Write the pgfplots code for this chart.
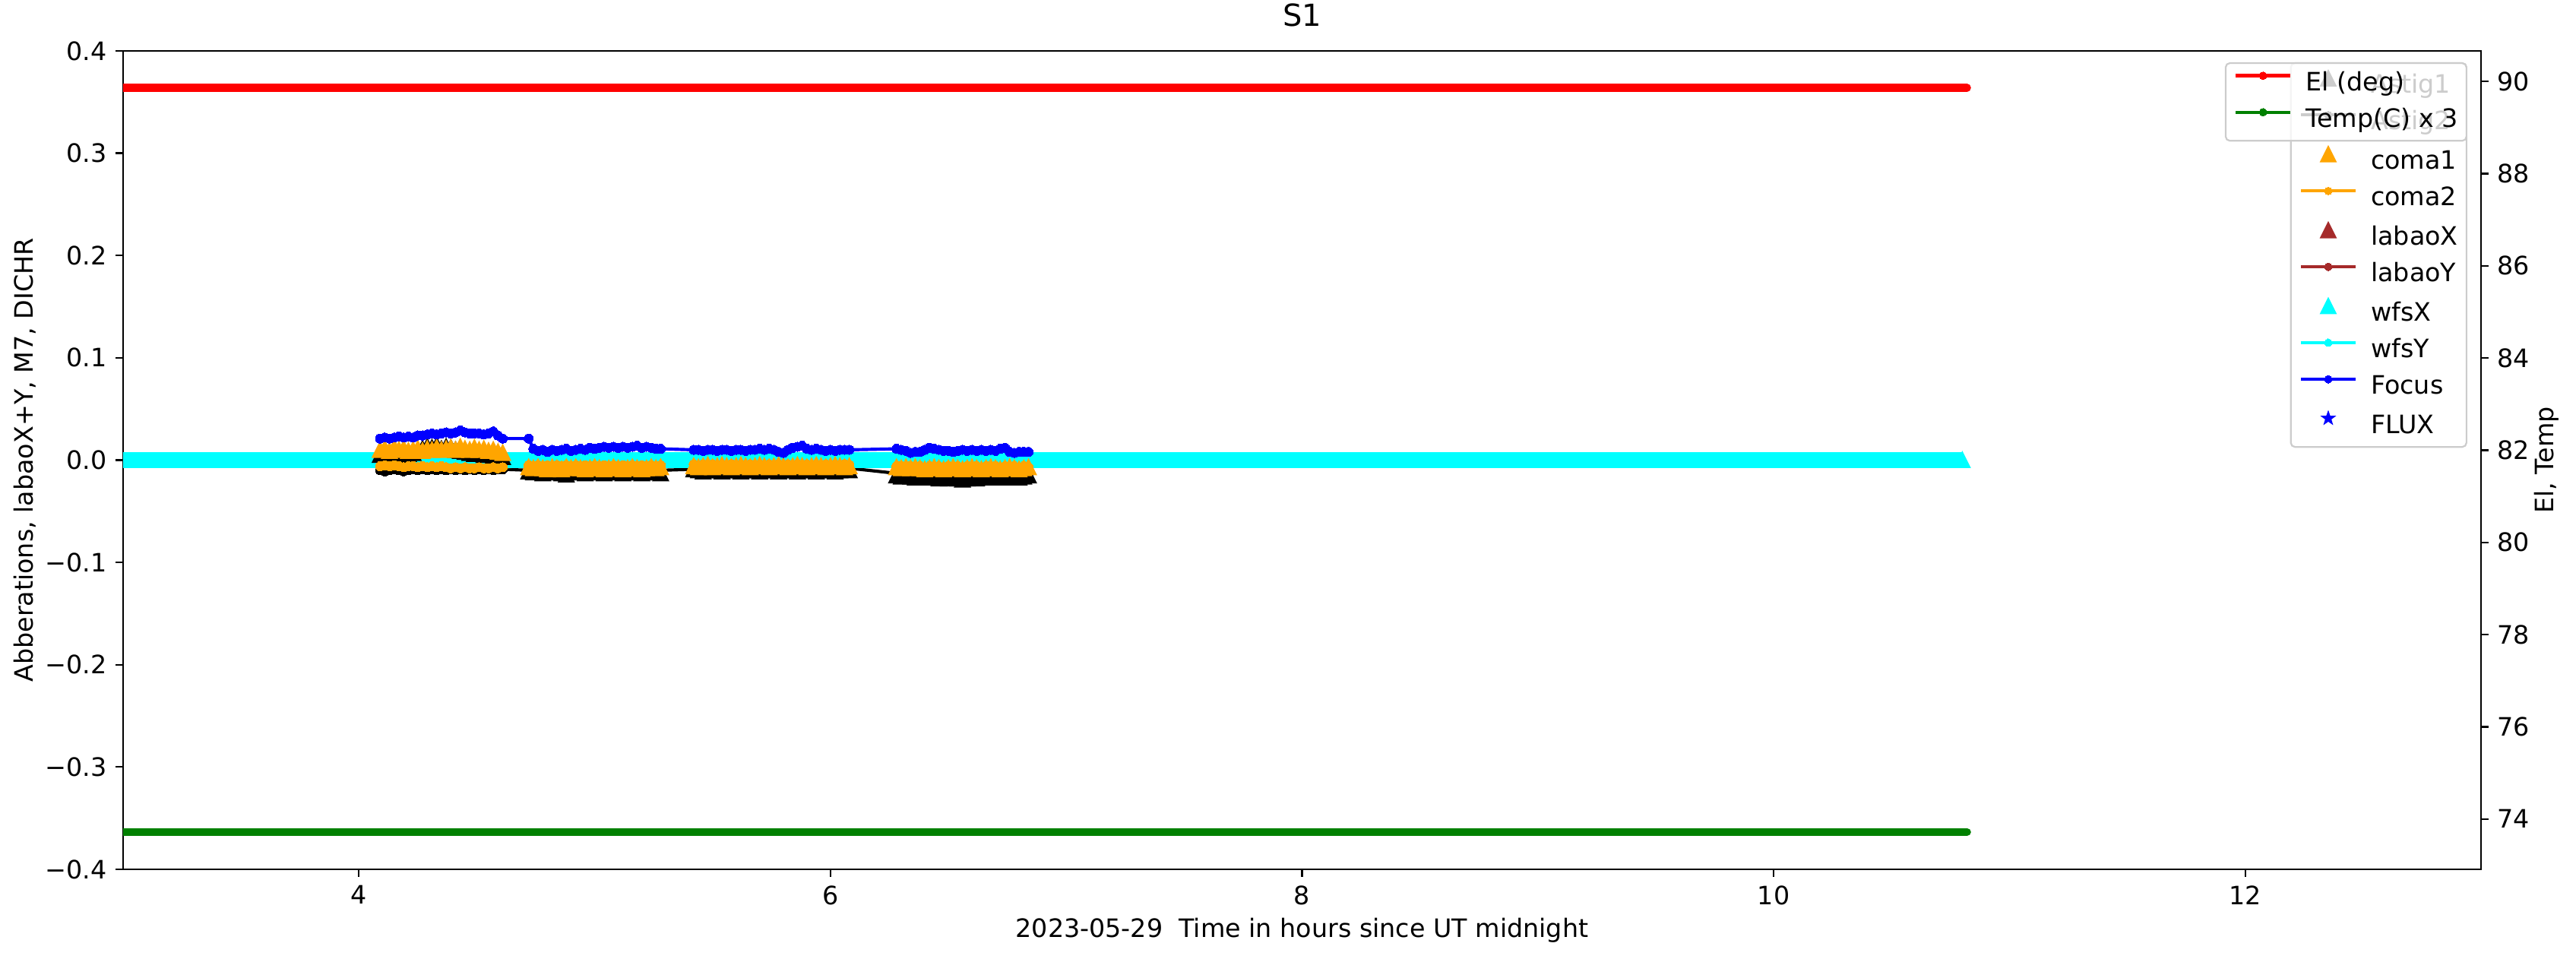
\documentclass[border=0pt,12pt]{standalone}
\usepackage{fontspec}
\setmainfont{DejaVu Sans}
\usepackage{pgfplots}
\usepackage{pgfplotstable}
\pgfplotsset{compat=1.18}

\definecolor{mplorange}{HTML}{FFA500}
\definecolor{mplbrown}{HTML}{A52A2A}
\definecolor{mplcyan}{HTML}{00FFFF}
\definecolor{mplblue}{HTML}{0000FF}
\definecolor{mplred}{HTML}{FF0000}
\definecolor{mplgreen}{HTML}{008000}
\definecolor{legframe}{HTML}{CCCCCC}

\pgfdeclareplotmark{mtri}{%
 \pgfpathmoveto{\pgfqpoint{0pt}{\pgfplotmarksize}}%
 \pgfpathlineto{\pgfqpoint{-\pgfplotmarksize}{-\pgfplotmarksize}}%
 \pgfpathlineto{\pgfqpoint{\pgfplotmarksize}{-\pgfplotmarksize}}%
 \pgfpathclose\pgfusepathqfillstroke}
\pgfdeclareplotmark{fstar}{%
 \pgfpathmoveto{\pgfpointpolar{90}{\pgfplotmarksize}}%
 \pgfpathlineto{\pgfpointpolar{126}{0.4\pgfplotmarksize}}%
 \pgfpathlineto{\pgfpointpolar{162}{\pgfplotmarksize}}%
 \pgfpathlineto{\pgfpointpolar{198}{0.4\pgfplotmarksize}}%
 \pgfpathlineto{\pgfpointpolar{234}{\pgfplotmarksize}}%
 \pgfpathlineto{\pgfpointpolar{270}{0.4\pgfplotmarksize}}%
 \pgfpathlineto{\pgfpointpolar{306}{\pgfplotmarksize}}%
 \pgfpathlineto{\pgfpointpolar{342}{0.4\pgfplotmarksize}}%
 \pgfpathlineto{\pgfpointpolar{18}{\pgfplotmarksize}}%
 \pgfpathlineto{\pgfpointpolar{54}{0.4\pgfplotmarksize}}%
 \pgfpathclose\pgfusepathqfillstroke}

% t: hours, a1: Astig1, a2: Astig2, c1: coma1, c2: coma2, foc: Focus
\pgfplotstableread{
t a1 a2 c1 c2 foc
4.09 0.005 -0.010 0.010 -0.006 0.021
4.11 0.007 -0.011 0.011 -0.005 0.022
4.13 0.004 -0.010 0.009 -0.006 0.021
4.15 0.006 -0.009 0.012 -0.005 0.022
4.17 0.008 -0.010 0.010 -0.006 0.023
4.19 0.005 -0.011 0.011 -0.007 0.022
4.21 0.006 -0.010 0.009 -0.006 0.023
4.23 0.007 -0.009 0.010 -0.006 0.022
4.25 0.009 -0.010 0.011 -0.007 0.024
4.27 0.011 -0.009 0.009 -0.006 0.024
4.29 0.013 -0.010 0.011 -0.007 0.025
4.31 0.012 -0.009 0.010 -0.006 0.026
4.33 0.014 -0.010 0.012 -0.007 0.025
4.35 0.011 -0.009 0.010 -0.006 0.026
4.37 0.013 -0.010 0.011 -0.007 0.027
4.39 0.012 -0.009 0.012 -0.008 0.026
4.41 0.010 -0.010 0.010 -0.007 0.027
4.43 0.009 -0.009 0.013 -0.008 0.029
4.45 0.008 -0.010 0.011 -0.007 0.027
4.47 0.007 -0.009 0.010 -0.008 0.026
4.49 0.006 -0.010 0.012 -0.008 0.026
4.51 0.007 -0.009 0.010 -0.007 0.026
4.53 0.005 -0.010 0.011 -0.008 0.025
4.55 0.006 -0.009 0.009 -0.008 0.026
4.57 0.004 -0.010 0.010 -0.007 0.028
4.59 0.005 -0.009 0.008 -0.008 0.024
4.61 0.003 -0.009 0.007 -0.007 0.021
4.72 -0.011 -0.010 -0.007 -0.005 0.021
4.74 -0.012 -0.011 -0.008 -0.006 0.011
4.76 -0.011 -0.010 -0.007 -0.005 0.009
4.78 -0.013 -0.011 -0.008 -0.006 0.010
4.80 -0.012 -0.010 -0.009 -0.005 0.008
4.82 -0.011 -0.011 -0.007 -0.006 0.010
4.84 -0.012 -0.010 -0.008 -0.005 0.009
4.86 -0.013 -0.011 -0.009 -0.006 0.010
4.88 -0.014 -0.010 -0.007 -0.005 0.011
4.90 -0.012 -0.011 -0.008 -0.006 0.009
4.92 -0.011 -0.010 -0.007 -0.005 0.010
4.94 -0.012 -0.011 -0.008 -0.006 0.011
4.96 -0.013 -0.010 -0.009 -0.005 0.010
4.98 -0.012 -0.011 -0.008 -0.006 0.012
5.00 -0.011 -0.010 -0.007 -0.005 0.011
5.02 -0.012 -0.011 -0.008 -0.006 0.012
5.04 -0.013 -0.010 -0.009 -0.005 0.013
5.06 -0.012 -0.011 -0.008 -0.006 0.012
5.08 -0.011 -0.010 -0.007 -0.005 0.013
5.10 -0.012 -0.011 -0.008 -0.006 0.012
5.12 -0.013 -0.010 -0.009 -0.005 0.013
5.14 -0.012 -0.011 -0.008 -0.006 0.012
5.16 -0.011 -0.010 -0.007 -0.005 0.013
5.18 -0.012 -0.011 -0.008 -0.006 0.014
5.20 -0.013 -0.010 -0.009 -0.005 0.012
5.22 -0.012 -0.011 -0.008 -0.006 0.013
5.24 -0.011 -0.010 -0.007 -0.005 0.012
5.26 -0.012 -0.011 -0.008 -0.006 0.011
5.28 -0.013 -0.010 -0.007 -0.005 0.011
5.42 -0.009 -0.009 -0.006 -0.004 0.010
5.44 -0.010 -0.008 -0.007 -0.005 0.010
5.46 -0.011 -0.009 -0.006 -0.004 0.009
5.48 -0.010 -0.008 -0.005 -0.005 0.010
5.50 -0.009 -0.009 -0.007 -0.004 0.010
5.52 -0.010 -0.008 -0.006 -0.005 0.009
5.54 -0.011 -0.009 -0.005 -0.004 0.010
5.56 -0.010 -0.008 -0.006 -0.005 0.010
5.58 -0.009 -0.009 -0.007 -0.004 0.009
5.60 -0.010 -0.008 -0.006 -0.005 0.010
5.62 -0.011 -0.009 -0.005 -0.004 0.010
5.64 -0.010 -0.008 -0.006 -0.005 0.009
5.66 -0.009 -0.009 -0.007 -0.004 0.010
5.68 -0.010 -0.008 -0.006 -0.005 0.010
5.70 -0.011 -0.009 -0.005 -0.004 0.011
5.72 -0.010 -0.008 -0.006 -0.005 0.010
5.74 -0.009 -0.009 -0.007 -0.004 0.011
5.76 -0.010 -0.008 -0.006 -0.005 0.010
5.78 -0.011 -0.009 -0.005 -0.004 0.008
5.80 -0.010 -0.008 -0.006 -0.005 0.007
5.82 -0.009 -0.009 -0.007 -0.004 0.010
5.84 -0.010 -0.008 -0.006 -0.005 0.012
5.86 -0.011 -0.009 -0.005 -0.004 0.013
5.88 -0.010 -0.008 -0.006 -0.005 0.014
5.90 -0.009 -0.009 -0.007 -0.004 0.011
5.92 -0.010 -0.008 -0.006 -0.005 0.010
5.94 -0.011 -0.009 -0.005 -0.004 0.011
5.96 -0.010 -0.008 -0.006 -0.005 0.010
5.98 -0.009 -0.009 -0.007 -0.004 0.009
6.00 -0.010 -0.008 -0.006 -0.005 0.010
6.02 -0.011 -0.009 -0.005 -0.004 0.009
6.04 -0.010 -0.008 -0.006 -0.005 0.010
6.06 -0.009 -0.009 -0.007 -0.004 0.010
6.08 -0.010 -0.008 -0.006 -0.005 0.010
6.28 -0.015 -0.013 -0.007 -0.006 0.011
6.30 -0.016 -0.014 -0.008 -0.006 0.010
6.32 -0.015 -0.013 -0.007 -0.007 0.009
6.34 -0.016 -0.014 -0.008 -0.006 0.007
6.36 -0.017 -0.013 -0.007 -0.007 0.008
6.38 -0.016 -0.014 -0.008 -0.006 0.008
6.40 -0.017 -0.013 -0.009 -0.007 0.010
6.42 -0.016 -0.014 -0.008 -0.006 0.012
6.44 -0.017 -0.013 -0.007 -0.007 0.011
6.46 -0.018 -0.014 -0.008 -0.006 0.010
6.48 -0.017 -0.013 -0.009 -0.007 0.009
6.50 -0.018 -0.014 -0.008 -0.006 0.009
6.52 -0.017 -0.013 -0.007 -0.007 0.008
6.54 -0.018 -0.014 -0.008 -0.006 0.009
6.56 -0.019 -0.013 -0.009 -0.007 0.010
6.58 -0.018 -0.014 -0.008 -0.006 0.009
6.60 -0.017 -0.013 -0.007 -0.007 0.010
6.62 -0.018 -0.014 -0.008 -0.006 0.009
6.64 -0.017 -0.013 -0.009 -0.007 0.010
6.66 -0.016 -0.014 -0.008 -0.006 0.009
6.68 -0.017 -0.013 -0.007 -0.007 0.010
6.70 -0.016 -0.014 -0.008 -0.006 0.009
6.72 -0.017 -0.013 -0.009 -0.007 0.011
6.74 -0.016 -0.014 -0.008 -0.006 0.012
6.76 -0.017 -0.013 -0.007 -0.007 0.008
6.78 -0.016 -0.014 -0.008 -0.006 0.007
6.80 -0.017 -0.013 -0.009 -0.007 0.008
6.82 -0.016 -0.014 -0.008 -0.006 0.008
6.84 -0.015 -0.013 -0.007 -0.007 0.008
}\aberr

\pgfplotsset{
  mplaxis/.style={
    scale only axis, width=1117.1pt, height=387.7pt,
    xmin=3, xmax=13,
    tick align=outside, major tick length=3.5pt,
    every tick/.style={black, line width=0.8pt},
    axis line style={line width=0.8pt},
    /pgf/number format/assume math mode=true,
    legend cell align=left,
    legend image code/.code={\draw[mark repeat=2,mark phase=2] plot coordinates {(0pt,3.8pt) (13pt,3.8pt) (26pt,3.8pt)};},
    legend image post style={opacity=1},
    legend style={at={(1,1)}, anchor=north east, xshift=-6.5pt, yshift=-5.4pt,
      fill=white, fill opacity=0.8, draw opacity=1, text opacity=1,
      draw=legframe, line width=0.8pt, rounded corners=2pt,
      inner xsep=4pt, inner ysep=4pt, row sep=5.8pt, column sep=6.5pt,
      nodes={inner sep=0pt, text height=9pt, text depth=2.5pt},
      cells={anchor=west}},
  },
  tri/.style={only marks, mark=mtri, mark size=3.3pt, mark options={fill=#1, draw=#1, line width=1pt}},
  dotline/.style={#1, line width=1.5pt, line join=round, mark=*, mark size=2.2pt, mark options={fill=#1, draw=#1, line width=0pt}},
  legdot/.style={#1, line width=1.5pt, mark=*, mark size=1.8pt, mark options={fill=#1, draw=#1, line width=0pt}},
}

\begin{document}
\begin{tikzpicture}
\begin{axis}[mplaxis, name=main,
  ymin=-0.4, ymax=0.4,
  tick pos=left,
  xtick={4,6,8,10,12}, xticklabels={4,6,8,10,12},
  ytick={-0.4,-0.3,-0.2,-0.1,0,0.1,0.2,0.3,0.4},
  yticklabels={−0.4,−0.3,−0.2,−0.1,0.0,0.1,0.2,0.3,0.4},
  title={S1}, title style={at={(axis description cs:0.5,1.0279)}, anchor=center, font=\fontsize{14.4}{17}\selectfont},
  xlabel={2023-05-29\ \ Time in hours since UT midnight},
  xlabel style={at={(axis description cs:0.5,-0.0743)}, anchor=center},
  ylabel={Abberations, labaoX+Y, M7, DICHR},
  ylabel style={at={(axis description cs:-0.0415,0.5)}, anchor=center},
]
\addlegendimage{tri=black}\addlegendentry{Astig1}
\addlegendimage{legdot=black}\addlegendentry{Astig2}
\addlegendimage{tri=mplorange}\addlegendentry{coma1}
\addlegendimage{legdot=mplorange}\addlegendentry{coma2}
\addlegendimage{tri=mplbrown}\addlegendentry{labaoX}
\addlegendimage{legdot=mplbrown}\addlegendentry{labaoY}
\addlegendimage{tri=mplcyan}\addlegendentry{wfsX}
\addlegendimage{legdot=mplcyan}\addlegendentry{wfsY}
\addlegendimage{legdot=mplblue}\addlegendentry{Focus}
\addlegendimage{only marks, mark=fstar, mark size=3.2pt, mark options={fill=mplblue, draw=mplblue, line width=0.5pt}}\addlegendentry{FLUX}

\addplot[tri=black, forget plot] table[x=t, y=a1] {\aberr};
\addplot[dotline=black, forget plot] table[x=t, y=a2] {\aberr};
\addplot[tri=mplorange, forget plot] table[x=t, y=c1] {\aberr};
\addplot[dotline=mplorange, forget plot] table[x=t, y=c2] {\aberr};
\addplot[mplcyan, line width=7.6pt, forget plot] coordinates {(2.9,0) (10.80,0)};
\addplot[tri=mplcyan, forget plot] coordinates {(10.80,0)};
\addplot[dotline=mplblue, forget plot] table[x=t, y=foc] {\aberr};
\end{axis}

\begin{axis}[mplaxis,
  ymin=72.911, ymax=90.664,
  axis y line*=right, axis x line=none,
  ytick={74,76,78,80,82,84,86,88,90},
  yticklabels={74,76,78,80,82,84,86,88,90},
  ylabel={El, Temp},
  ylabel style={at={(axis description cs:1.0277,0.5)}, anchor=center},
]
\addlegendimage{legdot=mplred}\addlegendentry{El (deg)}
\addlegendimage{legdot=mplgreen}\addlegendentry{Temp(C) x 3}
\addplot[mplred, line width=3.8pt, line cap=round, forget plot] coordinates {(2.9,89.86) (10.82,89.86)};
\addplot[mplgreen, line width=3.8pt, line cap=round, forget plot] coordinates {(2.9,73.72) (10.82,73.72)};
\end{axis}
\pgfresetboundingbox
\useasboundingbox ([xshift=-58.3pt,yshift=-42.5pt]main.south west) rectangle ([xshift=45pt,yshift=24.1pt]main.north east);
\end{tikzpicture}
\end{document}
